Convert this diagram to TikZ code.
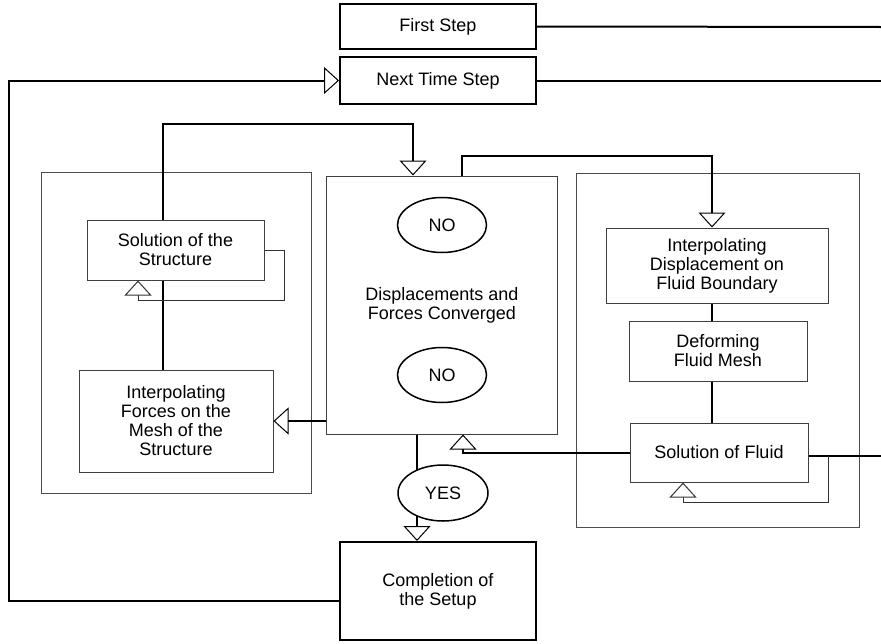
\documentclass[tikz,border=0pt]{standalone}
\usepackage{fontspec}
\setmainfont{Liberation Sans}
\usetikzlibrary{arrows.meta,shapes.geometric}
\begin{document}
\begin{tikzpicture}[x=1pt,y=-1pt,
  font=\fontsize{18}{19}\selectfont,
  mainbox/.style={draw=black,line width=2pt,rectangle,align=center,inner sep=0pt},
  thinbox/.style={draw=black!75,line width=1pt,rectangle,align=center,inner sep=0pt,fill=white},
  outerbox/.style={draw=black!70,line width=1pt},
  oval/.style={draw=black,line width=1.5pt,ellipse,minimum width=89pt,minimum height=55pt,inner sep=0pt,fill=white},
  conn/.style={draw=black,line width=2pt},
  loopc/.style={draw=black!80,line width=1pt},
  tip/.style={-{Triangle[open,length=15pt,width=27pt,line width=1pt]}}
]
\useasboundingbox (0,0) rectangle (881,643);
% outer boxes
\draw[outerbox] (41,172) rectangle (311,493);
\draw[outerbox] (576,173) rectangle (859,527);
% nodes
\node[mainbox,minimum width=196pt,minimum height=45pt] (first) at (438,26.5) {First Step};
\node[mainbox,minimum width=196pt,minimum height=47pt] (next) at (438,80.5) {Next Time Step};
\node[mainbox,minimum width=196pt,minimum height=98pt] (comp) at (438,591) {Completion of\\the Setup};
\node[thinbox,minimum width=177pt,minimum height=60pt] (solS) at (175.5,250) {Solution of the\\Structure};
\node[thinbox,minimum width=194pt,minimum height=102pt] (intF) at (176,421) {Interpolating\\Forces on the\\Mesh of the\\Structure};
\node[thinbox,minimum width=231pt,minimum height=258pt] (disp) at (441.5,305) {};
\node[align=center] (dtext) at (442,305) {Displacements and\\Forces Converged};
\node[oval] (no1) at (442,225) {NO};
\node[oval] (no2) at (442,375) {NO};
\node[thinbox,minimum width=222pt,minimum height=75pt] (intD) at (717,265.5) {Interpolating\\Displacement on\\Fluid Boundary};
\node[thinbox,minimum width=178pt,minimum height=60pt] (defM) at (718,351) {Deforming\\Fluid Mesh};
\node[thinbox,minimum width=178pt,minimum height=59pt] (solF) at (719,452.5) {Solution of Fluid};
% coordinates
\coordinate (e1) at (881,27);
\coordinate (e2) at (881,80.5);
\coordinate (lc) at (9,601);
\coordinate (t1) at (163,124);
\coordinate (t1b) at (413,124);
\coordinate (sl) at (284,300);
\coordinate (sl2) at (138,300);
\coordinate (t2) at (462,156);
\coordinate (t2b) at (712,156);
\coordinate (b1) at (463,453);
\coordinate (re) at (881,456);
\coordinate (sf1) at (828,456);
\coordinate (sf2) at (683,502);
\coordinate (yx) at (417,0);
% connectors
\draw[conn] (first.east) -- (e1);
\draw[conn] (next.east) -- (e2);
\draw[conn,tip] (comp.west |- lc) -- (lc) |- (next.west);
\draw[conn,tip] (solS.north -| t1) -- (t1) -- (t1b) -- (disp.north -| t1b);
\draw[conn] (solS.south -| t1) -- (intF.north -| t1);
\draw[loopc,tip] (solS.east) -| (sl) -- (sl2) -- (solS.south -| sl2);
\draw[conn,tip] (intF.east -| disp.west) -- (intF.east);
\draw[conn,tip] (disp.north -| t2) -- (t2) -- (t2b) -- (intD.north -| t2b);
\draw[conn] (intD.south -| t2b) -- (defM.north -| t2b);
\draw[conn] (defM.south -| t2b) -- (solF.north -| t2b);
\draw[conn,tip] (solF.west |- b1) -- (b1) -- (disp.south -| b1);
\draw[conn] (solF.east |- re) -- (re);
\draw[loopc,tip] (sf1) |- (sf2) -- (solF.south -| sf2);
\draw[conn,tip] (disp.south -| yx) -- (comp.north -| yx);
\node[oval,minimum width=90pt,minimum height=56pt] (yes) at (443,493) {YES};
\end{tikzpicture}
\end{document}
